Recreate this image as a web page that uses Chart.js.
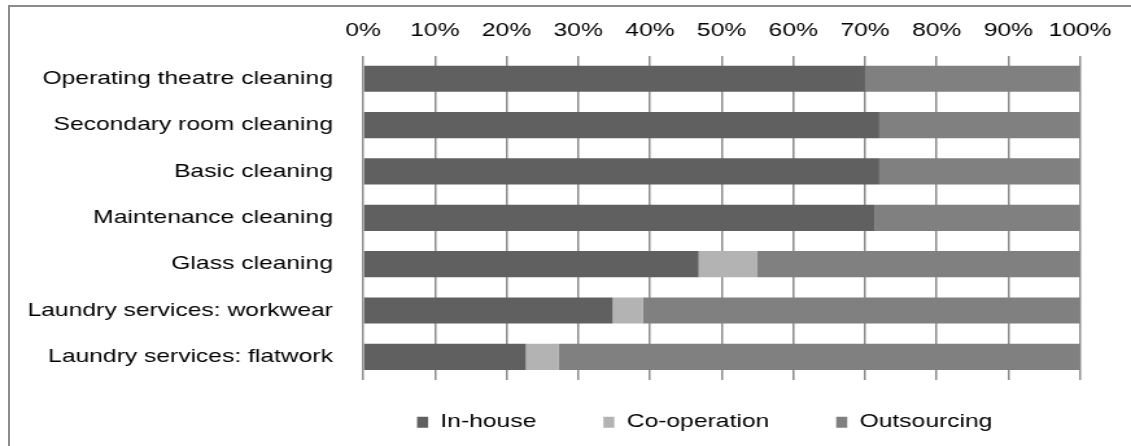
<!DOCTYPE html>
<html>
<head>
<meta charset="utf-8">
<script src="https://cdn.jsdelivr.net/npm/chart.js@4/dist/chart.umd.min.js"></script>
<style>
  html, body { margin: 0; padding: 0; background: #fff; overflow: hidden; }
  #wrap { position: relative; width: 1131px; height: 446px; overflow: hidden; }
  /* canvas is drawn narrow and stretched sideways to get the wide lettering */
  #chart { position: absolute; left: 0; top: 0; transform-origin: 0 0; }
  #frame { position: absolute; left: 8px; top: 5px; width: 1200px; height: 500px;
           border: 2px solid #8c8c8c; pointer-events: none; }
</style>
</head>
<body>
<div id="wrap">
  <canvas id="chart" width="872" height="470" style="width:872px;height:470px"></canvas>
  <div id="frame"></div>
</div>
<script>
// Categories and shares (percent)
const categories = [
  'Operating theatre cleaning',
  'Secondary room cleaning',
  'Basic cleaning',
  'Maintenance cleaning',
  'Glass cleaning',
  'Laundry services: workwear',
  'Laundry services: flatwork'
];
const inHouse     = [70, 72, 72, 71.3, 46.8, 34.8, 22.7];
const coOperation = [0, 0, 0, 0, 8.2, 4.2, 4.6];
const outsourcing = [30, 28, 28, 28.7, 45, 61, 72.7];
const xTicks = [0, 10, 20, 30, 40, 50, 60, 70, 80, 90, 100];

const STRETCH = 1131 / 872;
const canvas = document.getElementById('chart');
canvas.style.transform = 'scaleX(' + STRETCH + ')';

const FONT = { family: '"Liberation Sans", Arial, sans-serif', size: 19 };

// nudges the legend up and left (legend padding also sets item gaps)
const legendNudge = {
  id: 'legendNudge',
  afterLayout(chart){
    const lg = chart.legend;
    if (!lg) return;
    lg.top -= 19;
    lg.bottom -= 19;
    lg.left -= 13;
    lg.right -= 13;
  }
};

new Chart(canvas.getContext('2d'), {
  type: 'bar',
  data: {
    labels: categories,
    datasets: [
      { label: 'In-house',     data: inHouse,     backgroundColor: '#606060' },
      { label: 'Co-operation', data: coOperation, backgroundColor: '#b3b3b3' },
      { label: 'Outsourcing',  data: outsourcing, backgroundColor: '#808080' }
    ]
  },
  options: {
    indexAxis: 'y',
    responsive: false,
    animation: false,
    devicePixelRatio: 1,
    datasets: { bar: { barPercentage: 0.565, categoryPercentage: 1, borderWidth: 0 } },
    layout: { padding: { top: 5.6, right: 39.3, bottom: 9.3, left: 0 } },
    plugins: {
      tooltip: { enabled: false },
      legend: {
        position: 'bottom',
        fullSize: false,
        labels: {
          font: FONT, color: '#000',
          boxWidth: 8.5, boxHeight: 11, padding: 51.7
        }
      }
    },
    scales: {
      x: {
        position: 'top',
        stacked: true,
        min: 0, max: 100,
        afterBuildTicks(scale){ scale.ticks = xTicks.map(v => ({ value: v })); },
        ticks: {
          font: FONT, color: '#000', padding: 13.6,
          maxRotation: 0, autoSkip: false,
          callback: v => v + '%'
        },
        grid: { color: '#8c8c8c', lineWidth: 1.5, drawTicks: false },
        border: { display: false }
      },
      y: {
        stacked: true,
        afterFit(scale){ scale.width = 280; },
        ticks: { font: FONT, color: '#000', padding: 23.3 },
        grid: { display: false, drawTicks: false },
        border: { display: false }
      }
    }
  },
  plugins: [legendNudge]
});
</script>
</body>
</html>
